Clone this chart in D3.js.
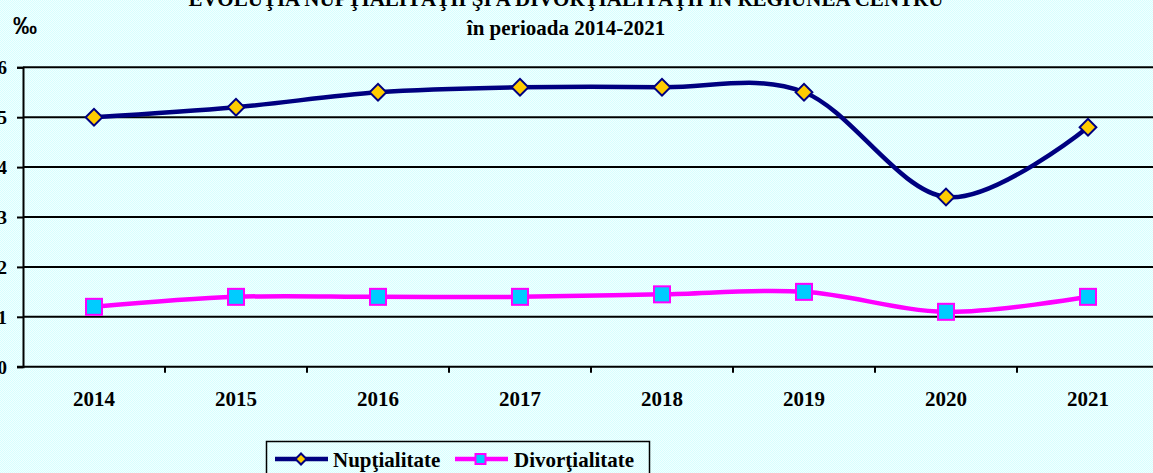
<!DOCTYPE html>
<html>
<head>
<meta charset="utf-8">
<script src="https://cdn.jsdelivr.net/npm/d3@7"></script>
<style>
  body { margin: 0; overflow: hidden; }
  svg { display: block; }
  text { font-family: 'Liberation Serif', 'Times New Roman', serif; font-weight: bold; fill: #000; }
</style>
</head>
<body>
<div id="root"></div>
<script>
const W = 1153, H = 473

const years = ['2014', '2015', '2016', '2017', '2018', '2019', '2020', '2021']
const nuptialitate = [5.0, 5.2, 5.5, 5.6, 5.6, 5.5, 3.4, 4.8]
const divortialitate = [1.2, 1.4, 1.4, 1.4, 1.45, 1.5, 1.1, 1.4]
const yTicks = [0, 1, 2, 3, 4, 5, 6]
const titleLines = ['EVOLUŢIA NUPŢIALITĂŢII ŞI A DIVORŢIALITĂŢII ÎN REGIUNEA CENTRU', 'în perioada 2014-2021']
const seriesNames = ['Nupţialitate', 'Divorţialitate']

let svg = d3.select('#root').append('svg')
  .attr('width', W).attr('height', H)

// checkered light cyan background
let pat = svg.append('defs').append('pattern')
  .attr('id', 'bg').attr('width', 2).attr('height', 2)
  .attr('patternUnits', 'userSpaceOnUse')
pat.append('rect').attr('width', 2).attr('height', 2).attr('fill', '#F2FFFF')
pat.append('rect').attr('width', 1).attr('height', 1).attr('fill', '#D6FFFF')
pat.append('rect').attr('x', 1).attr('y', 1).attr('width', 1).attr('height', 1).attr('fill', '#D6FFFF')
svg.append('rect').attr('width', W).attr('height', H).attr('fill', 'url(#bg)')

let x = d3.scaleBand().domain(years).range([23, 1159])
let cx = d => x(d) + x.bandwidth() / 2
let y = d3.scaleLinear().domain([0, 6]).range([366.7, 67.3])

// title (first line is cut by the top edge in the original)
svg.append('text').attr('x', 566).attr('y', 6).attr('text-anchor', 'middle')
  .style('font-size', '21px').text(titleLines[0])
svg.append('text').attr('x', 566).attr('y', 35).attr('text-anchor', 'middle')
  .style('font-size', '21px').text(titleLines[1])

// unit label
svg.append('text').attr('x', 13).attr('y', 34)
  .style('font-family', "'Liberation Sans', Arial, sans-serif")
  .style('font-size', '24px').text('‰')

// gridlines
svg.append('g').selectAll('line')
  .data(yTicks.filter(d => d > 0)).enter()
  .append('line')
  .attr('x1', 23).attr('x2', W)
  .attr('y1', d => y(d)).attr('y2', d => y(d))
  .attr('stroke', '#000').attr('stroke-width', 2)

// y axis
let yAxis = svg.append('g').attr('transform', 'translate(23,0)')
  .call(d3.axisLeft(y).tickValues(yTicks).tickSize(6).tickPadding(10).tickFormat(d3.format('d')))
yAxis.select('.domain').attr('stroke', '#000').attr('stroke-width', 2)
yAxis.selectAll('.tick line').attr('stroke-width', 2)
yAxis.selectAll('.tick text')
  .style('font-family', "'Liberation Serif', 'Times New Roman', serif")
  .style('font-weight', 'bold').style('font-size', '19px').attr('dy', '0.35em')

// x axis baseline
svg.append('line').attr('x1', 17).attr('x2', W)
  .attr('y1', y(0)).attr('y2', y(0))
  .attr('stroke', '#000').attr('stroke-width', 2)
// ticks at category boundaries
svg.append('g').selectAll('line')
  .data(years.slice(1)).enter()
  .append('line')
  .attr('x1', d => x(d)).attr('x2', d => x(d))
  .attr('y1', y(0)).attr('y2', y(0) + 6)
  .attr('stroke', '#000').attr('stroke-width', 2)
svg.append('g').selectAll('text')
  .data(years).enter()
  .append('text')
  .attr('x', d => cx(d)).attr('y', 406)
  .attr('text-anchor', 'middle')
  .style('font-size', '21px')
  .text(d => d)

let line = d3.line()
  .x((d, i) => cx(years[i]))
  .y(d => y(d))
  .curve(d3.curveCatmullRom.alpha(0))

// Nupţialitate
svg.append('path').datum(nuptialitate)
  .attr('d', line).attr('fill', 'none')
  .attr('stroke', '#000080').attr('stroke-width', 4.5)
svg.append('g').selectAll('path')
  .data(nuptialitate).enter()
  .append('path')
  .attr('d', d3.symbol(d3.symbolSquare, 140))
  .attr('transform', (d, i) => `translate(${cx(years[i])},${y(d)}) rotate(45)`)
  .attr('fill', '#FFCC00').attr('stroke', '#000080').attr('stroke-width', 2)

// Divorţialitate
svg.append('path').datum(divortialitate)
  .attr('d', line).attr('fill', 'none')
  .attr('stroke', '#FF00FF').attr('stroke-width', 4.5)
svg.append('g').selectAll('rect')
  .data(divortialitate).enter()
  .append('rect')
  .attr('x', (d, i) => cx(years[i]) - 8).attr('y', d => y(d) - 8)
  .attr('width', 16).attr('height', 16)
  .attr('fill', '#00CCFF').attr('stroke', '#FF00FF').attr('stroke-width', 2)

// legend
let lg = svg.append('g')
lg.append('rect').attr('x', 266.5).attr('y', 441.5).attr('width', 383).attr('height', 40)
  .attr('fill', 'none').attr('stroke', '#000').attr('stroke-width', 1.5)
lg.append('line').attr('x1', 275).attr('x2', 328).attr('y1', 459).attr('y2', 459)
  .attr('stroke', '#000080').attr('stroke-width', 4.5)
lg.append('path').attr('d', d3.symbol(d3.symbolSquare, 60))
  .attr('transform', 'translate(301,459) rotate(45)')
  .attr('fill', '#FFCC00').attr('stroke', '#000080').attr('stroke-width', 2)
lg.append('text').attr('x', 333).attr('y', 467).style('font-size', '21px').text(seriesNames[0])
lg.append('line').attr('x1', 455).attr('x2', 508).attr('y1', 459).attr('y2', 459)
  .attr('stroke', '#FF00FF').attr('stroke-width', 4.5)
lg.append('rect').attr('x', 475.5).attr('y', 454).attr('width', 10).attr('height', 10)
  .attr('fill', '#00CCFF').attr('stroke', '#FF00FF').attr('stroke-width', 2)
lg.append('text').attr('x', 514).attr('y', 467).style('font-size', '21px').text(seriesNames[1])
</script>
</body>
</html>
